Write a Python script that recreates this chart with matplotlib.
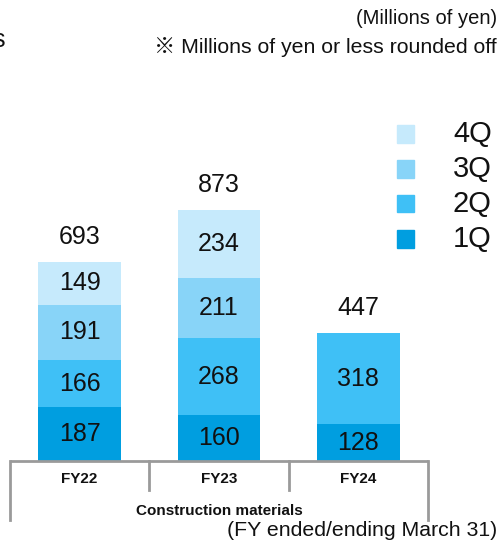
import matplotlib
matplotlib.use("Agg")
import matplotlib.pyplot as plt
from matplotlib.patches import Rectangle
import numpy as np

plt.rcParams['font.family'] = ['Liberation Sans', 'Noto Sans CJK JP', 'DejaVu Sans']

fiscal_years = ["FY22", "FY23", "FY24"]
quarters = ["1Q", "2Q", "3Q", "4Q"]
q1 = [187, 160, 128]
q2 = [166, 268, 318]
q3 = [191, 211, 0]
q4 = [149, 234, 0]
totals = [693, 873, 447]
segment_name = "Construction materials"

colors = {"1Q": "#009ee0", "2Q": "#3fc0f6", "3Q": "#88d4f8", "4Q": "#c6eafc"}

W, H = 502, 543
fig = plt.figure(figsize=(W / 100, H / 100), dpi=100)

# axes placed in pixel terms: left 10, right 428, baseline 461, top 110
left, right, base, top = 10, 428, 461, 110
ax = fig.add_axes([left / W, 1 - base / H, (right - left) / W, (base - top) / H])
ax.set_xlim(0, 3)
ax.set_ylim(0, (base - top) * 3.484)
ax.axis("off")

x = np.arange(len(fiscal_years)) + 0.5
width = 0.595
series = [q1, q2, q3, q4]
bottom = np.zeros(len(x))
for name, vals in zip(quarters, series):
    vals = np.array(vals, dtype=float)
    ax.bar(x, vals, width, bottom=bottom, color=colors[name], edgecolor="none", label=name)
    for xi, b, v in zip(x, bottom, vals):
        if v > 0:
            ax.text(xi, b + v / 2, f"{int(v)}", ha="center", va="center", fontsize=18, color="#111111")
    bottom += vals

for xi, t in zip(x, totals):
    ax.annotate(f"{t}", (xi, t), xytext=(0, 25), textcoords="offset pixels",
                ha="center", va="center", fontsize=18, color="#111111")

# category frame under the axis
gray = "#9a9a9a"
tr = ax.get_xaxis_transform()
hpx = base - top
ax.plot([0, 3], [0, 0], color=gray, lw=2, transform=tr, clip_on=False, solid_capstyle="butt")
ax.plot([0, 0], [0, -59 / hpx], color=gray, lw=2, transform=tr, clip_on=False)
ax.plot([3, 3], [0, -59 / hpx], color=gray, lw=2, transform=tr, clip_on=False)
for sep in [1, 2]:
    ax.plot([sep, sep], [0, -29 / hpx], color=gray, lw=2, transform=tr, clip_on=False)
for xi, fy in zip(x, fiscal_years):
    ax.text(xi, -18 / hpx, fy, transform=tr, ha="center", va="center",
            fontsize=11, fontweight="bold", color="#111111")
ax.text(1.5, -50 / hpx, segment_name, transform=tr, ha="center", va="center",
        fontsize=11, fontweight="bold", color="#111111")

# legend, top quarter first
for i, name in enumerate(quarters[::-1]):
    yc = 134 + 35 * i
    fig.patches.append(Rectangle((397 / W, 1 - (yc + 8.5) / H), 17 / W, 17 / H,
                                 transform=fig.transFigure, color=colors[name]))
    fig.text(453 / W, 1 - yc / H, name, ha="left", va="center", fontsize=21, color="#111111")

fig.text(497 / W, 1 - 18 / H, "(Millions of yen)", ha="right", va="center", fontsize=14.5, color="#111111")
fig.text(497 / W, 1 - 47 / H, "※ Millions of yen or less rounded off", ha="right", va="center",
         fontsize=15.3, color="#111111")
fig.text(497 / W, 1 - 530 / H, "(FY ended/ending March 31)", ha="right", va="center",
         fontsize=15.3, color="#111111")
fig.text(5 / W, 1 - 40 / H, "s", ha="right", va="center", fontsize=18, color="#111111")

fig.savefig("out.png", dpi=100)
